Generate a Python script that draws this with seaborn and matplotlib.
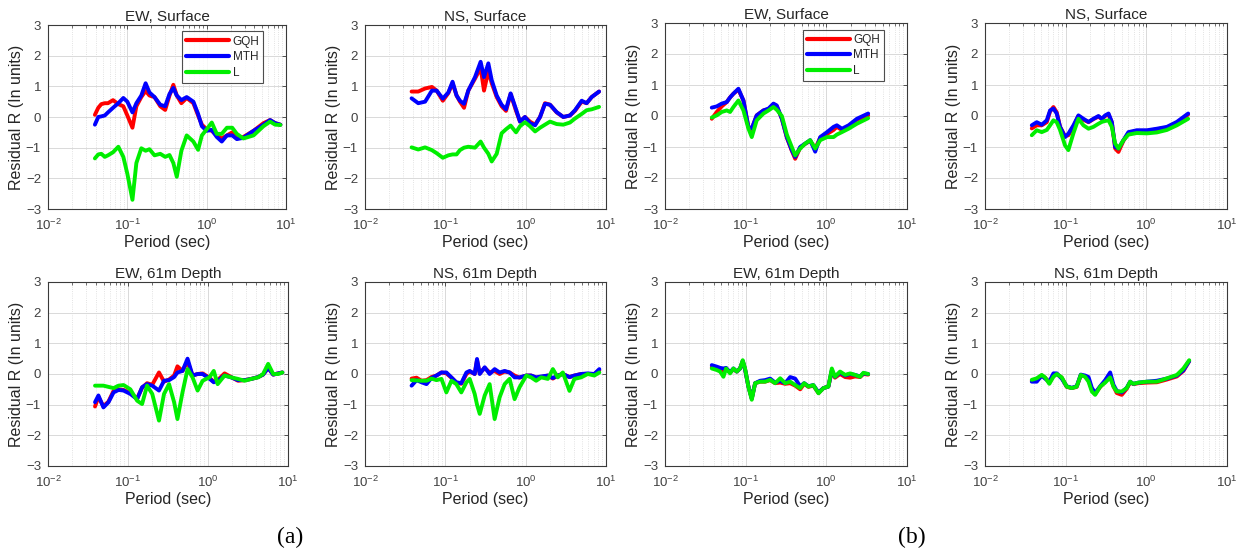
import matplotlib
matplotlib.use("Agg")
import matplotlib.pyplot as plt
import seaborn as sns
from matplotlib.ticker import LogLocator, LogFormatterSciNotation, NullFormatter, FixedLocator

# ---------------- data: residuals vs period, (a) left pair, (b) right pair ----------------
# (a) EW, Surface
A_EW_SURF_T = [0.039, 0.043, 0.047, 0.052, 0.057, 0.066, 0.077, 0.089, 0.10, 0.116,
               0.13, 0.15, 0.17, 0.19, 0.22, 0.26, 0.30, 0.34, 0.38, 0.42,
               0.48, 0.56, 0.68, 0.78, 0.87, 1.0, 1.16, 1.34, 1.55, 1.8,
               2.1, 2.4, 2.9, 3.9, 5.2, 6.3, 7.3, 8.5]
A_EW_SURF_GQH = [0.07, 0.3, 0.42, 0.45, 0.45, 0.55, 0.42, 0.35, 0.05, -0.35,
                 0.35, 0.65, 0.85, 0.7, 0.65, 0.35, 0.23, 0.7, 1.05, 0.7,
                 0.45, 0.62, 0.45, 0.05, -0.25, -0.4, -0.45, -0.6, -0.7, -0.6,
                 -0.5, -0.7, -0.65, -0.45, -0.2, -0.1, -0.2, -0.25]
A_EW_SURF_MTH = [-0.25, 0.0, 0.02, 0.05, 0.15, 0.3, 0.45, 0.62, 0.5, 0.15,
                 0.45, 0.7, 1.1, 0.8, 0.65, 0.4, 0.35, 0.75, 0.95, 0.7,
                 0.55, 0.65, 0.5, 0.1, -0.3, -0.45, -0.42, -0.65, -0.8, -0.6,
                 -0.6, -0.72, -0.68, -0.45, -0.25, -0.1, -0.2, -0.25]
A_EW_SURF_L = [-1.35, -1.22, -1.2, -1.3, -1.25, -1.15, -0.97, -1.3, -1.85, -2.7,
               -1.5, -1.02, -1.1, -1.05, -1.25, -1.2, -1.3, -1.24, -1.5, -1.95,
               -1.1, -0.6, -0.8, -1.07, -0.6, -0.4, -0.18, -0.55, -0.55, -0.35,
               -0.35, -0.55, -0.7, -0.6, -0.3, -0.15, -0.25, -0.26]

# (a) NS, Surface
A_NS_SURF_T = [0.038, 0.046, 0.056, 0.068, 0.078, 0.093, 0.109, 0.123, 0.138, 0.152,
               0.171, 0.193, 0.234, 0.275, 0.303, 0.343, 0.378, 0.436, 0.502, 0.569,
               0.65, 0.759, 0.85, 0.98, 1.13, 1.31, 1.51, 1.74, 2.01, 2.43,
               2.94, 3.56, 4.11, 4.98, 5.74, 6.63, 8.2]
A_NS_SURF_GQH = [0.83, 0.83, 0.93, 0.98, 0.86, 0.53, 0.78, 1.1, 0.7, 0.5,
                 0.3, 0.86, 1.25, 1.6, 0.86, 1.5, 1.1, 0.65, 0.35, 0.2,
                 0.75, 0.2, -0.15, 0.0, -0.15, -0.25, 0.0, 0.45, 0.4, 0.15,
                 0.0, 0.05, 0.2, 0.5, 0.45, 0.65, 0.83]
A_NS_SURF_MTH = [0.61, 0.45, 0.5, 0.86, 0.86, 0.6, 0.8, 1.15, 0.7, 0.53,
                 0.43, 0.86, 1.3, 1.8, 1.3, 1.75, 1.2, 0.7, 0.4, 0.25,
                 0.77, 0.25, -0.15, 0.0, -0.2, -0.27, 0.0, 0.43, 0.4, 0.16,
                 0.0, 0.05, 0.22, 0.53, 0.45, 0.65, 0.83]
A_NS_SURF_L = [-0.99, -1.06, -0.99, -1.08, -1.18, -1.33, -1.25, -1.22, -1.22, -1.08,
               -1.0, -0.97, -1.0, -0.8, -1.0, -1.2, -1.45, -1.2, -0.53, -0.4,
               -0.28, -0.5, -0.3, -0.17, -0.3, -0.47, -0.35, -0.25, -0.15, -0.23,
               -0.25, -0.18, -0.05, 0.1, 0.22, 0.25, 0.33]

# (a) EW, 61m Depth
A_EW_DEEP_T = [0.0387, 0.0427, 0.0493, 0.057, 0.066, 0.0762, 0.0881, 0.107, 0.130, 0.150,
               0.173, 0.201, 0.244, 0.282, 0.326, 0.377, 0.415, 0.48, 0.555, 0.641,
               0.741, 0.857, 1.04, 1.18, 1.32, 1.61, 1.95, 2.37, 2.87, 3.48,
               4.23, 4.88, 5.65, 6.53, 7.55, 8.5]
A_EW_DEEP_GQH = [-1.06, -0.75, -1.05, -0.9, -0.55, -0.5, -0.52, -0.62, -0.8, -0.45,
                 -0.3, -0.35, 0.05, -0.25, -0.18, -0.05, 0.25, 0.1, 0.4, -0.05,
                 0.0, 0.02, -0.12, -0.25, -0.2, 0.02, -0.1, -0.22, -0.2, -0.16,
                 -0.1, -0.02, 0.2, -0.02, 0.02, 0.05]
A_EW_DEEP_MTH = [-0.92, -0.7, -1.09, -0.92, -0.6, -0.52, -0.54, -0.65, -0.82, -0.43,
                 -0.33, -0.38, -0.54, -0.22, -0.2, -0.1, 0.05, 0.1, 0.5, -0.05,
                 0.0, 0.0, -0.15, -0.27, -0.22, -0.05, -0.11, -0.2, -0.2, -0.16,
                 -0.1, -0.02, 0.2, -0.02, 0.02, 0.05]
A_EW_DEEP_L = [-0.38, -0.38, -0.38, -0.42, -0.46, -0.38, -0.36, -0.5, -0.87, -0.98,
               -0.38, -0.65, -1.52, -0.65, -0.33, -0.92, -1.47, -0.6, 0.16, -0.11,
               -0.54, -0.22, -0.11, 0.1, -0.33, -0.05, -0.11, -0.16, -0.22, -0.16,
               -0.11, 0.0, 0.33, 0.0, 0.0, 0.05]

# (a) NS, 61m Depth
A_NS_DEEP_T = [0.038, 0.0438, 0.0505, 0.0583, 0.0672, 0.0776, 0.0895, 0.103, 0.119, 0.137,
               0.158, 0.183, 0.201, 0.232, 0.248, 0.268, 0.309, 0.356, 0.411, 0.474,
               0.547, 0.631, 0.728, 0.840, 1.02, 1.17, 1.35, 1.56, 1.89, 2.18,
               2.51, 2.90, 3.51, 4.04, 4.90, 5.92, 7.16, 8.26]
A_NS_DEEP_GQH = [-0.15, -0.12, -0.22, -0.2, -0.1, -0.05, 0.05, 0.02, -0.12, -0.28,
                 -0.32, 0.0, 0.08, 0.0, 0.45, 0.02, 0.2, 0.05, 0.1, 0.0,
                 0.08, 0.05, -0.05, -0.12, -0.05, -0.05, -0.12, -0.1, -0.05, -0.15,
                 -0.05, 0.0, -0.1, -0.05, 0.0, 0.0, 0.0, 0.12]
A_NS_DEEP_MTH = [-0.38, -0.2, -0.27, -0.33, -0.13, -0.05, 0.05, 0.05, -0.11, -0.27,
                 -0.3, 0.05, 0.1, 0.0, 0.49, 0.0, 0.22, 0.0, 0.16, 0.05,
                 0.1, 0.05, -0.11, -0.11, -0.05, -0.05, -0.11, -0.08, -0.05, -0.13,
                 -0.05, 0.0, -0.1, -0.05, 0.0, 0.02, 0.0, 0.16]
A_NS_DEEP_L = [-0.2, -0.21, -0.22, -0.22, -0.15, -0.2, -0.16, -0.6, -0.22, -0.33,
               -0.6, -0.27, -0.16, -0.65, -1.0, -1.3, -0.7, -0.33, -1.47, -0.76,
               -0.33, -0.16, -0.82, -0.43, -0.05, -0.11, -0.22, -0.11, -0.16, 0.16,
               -0.11, 0.05, -0.55, -0.16, -0.11, 0.0, -0.05, 0.05]

# (b) EW, Surface
B_EW_SURF_T = [0.038, 0.0438, 0.0505, 0.0583, 0.0641, 0.0705, 0.0813, 0.0938, 0.108, 0.119,
               0.137, 0.166, 0.192, 0.221, 0.243, 0.281, 0.324, 0.373, 0.411, 0.474,
               0.547, 0.631, 0.728, 0.840, 1.02, 1.23, 1.35, 1.56, 1.89, 2.39, 3.3]
B_EW_SURF_GQH = [-0.09, 0.13, 0.31, 0.45, 0.6, 0.72, 0.85, 0.5, -0.35, -0.42,
                 0.02, 0.18, 0.22, 0.38, 0.32, -0.09, -0.7, -1.12, -1.38, -1.02,
                 -0.9, -0.8, -1.05, -0.7, -0.58, -0.45, -0.35, -0.45, -0.38, -0.12, 0.02]
B_EW_SURF_MTH = [0.27, 0.31, 0.4, 0.45, 0.6, 0.72, 0.88, 0.5, -0.35, -0.4,
                 0.02, 0.18, 0.24, 0.4, 0.34, -0.09, -0.68, -1.1, -1.32, -1.0,
                 -0.89, -0.78, -1.15, -0.68, -0.52, -0.35, -0.3, -0.41, -0.3, -0.09, 0.08]
B_EW_SURF_L = [-0.05, 0.02, 0.13, 0.18, 0.13, 0.29, 0.5, 0.18, -0.4, -0.68,
               -0.14, 0.08, 0.18, 0.29, 0.2, 0.0, -0.6, -1.0, -1.27, -1.05,
               -0.89, -0.78, -1.05, -0.78, -0.68, -0.68, -0.6, -0.52, -0.41, -0.25, -0.07]

# (b) NS, Surface
B_NS_SURF_T = [0.038, 0.0438, 0.0505, 0.0583, 0.0641, 0.0705, 0.0775, 0.0852, 0.0983, 0.108,
               0.125, 0.144, 0.166, 0.192, 0.221, 0.255, 0.281, 0.309, 0.340, 0.373,
               0.411, 0.451, 0.520, 0.600, 0.76, 1.02, 1.35, 1.80, 2.39, 3.3]
B_NS_SURF_GQH = [-0.4, -0.3, -0.3, -0.2, 0.15, 0.29, 0.12, -0.35, -0.65, -0.62,
                 -0.35, 0.0, -0.12, -0.2, -0.1, -0.02, -0.1, 0.0, 0.05, -0.2,
                 -1.05, -1.16, -0.8, -0.55, -0.48, -0.48, -0.43, -0.37, -0.22, 0.05]
B_NS_SURF_MTH = [-0.3, -0.2, -0.28, -0.14, 0.18, 0.24, 0.08, -0.35, -0.68, -0.57,
                 -0.3, 0.02, -0.09, -0.19, -0.09, 0.0, -0.09, 0.02, 0.08, -0.19,
                 -1.0, -1.05, -0.78, -0.52, -0.46, -0.46, -0.41, -0.35, -0.19, 0.08]
B_NS_SURF_L = [-0.62, -0.46, -0.52, -0.45, -0.3, -0.14, -0.2, -0.45, -0.95, -1.1,
               -0.55, -0.09, -0.3, -0.41, -0.35, -0.25, -0.19, -0.16, -0.14, -0.35,
               -0.89, -1.05, -0.78, -0.6, -0.55, -0.56, -0.53, -0.45, -0.3, -0.09]

# (b) EW, 61m Depth
B_EW_DEEP_T = [0.038, 0.0438, 0.0482, 0.0530, 0.0572, 0.0641, 0.0705, 0.0775, 0.0852, 0.0920,
               0.0983, 0.108, 0.119, 0.131, 0.151, 0.174, 0.201, 0.232, 0.268, 0.309,
               0.356, 0.411, 0.474, 0.531, 0.600, 0.69, 0.80, 0.92, 1.06, 1.17,
               1.28, 1.48, 1.71, 1.97, 2.27, 2.62, 2.88, 3.3]
B_EW_DEEP_GQH = [0.22, 0.18, 0.15, 0.1, 0.18, 0.05, 0.15, 0.08, 0.18, 0.42,
                 0.15, -0.4, -0.8, -0.3, -0.25, -0.25, -0.2, -0.3, -0.28, -0.32,
                 -0.3, -0.38, -0.5, -0.32, -0.42, -0.38, -0.62, -0.46, -0.41, 0.1,
                 -0.12, 0.0, -0.1, -0.12, -0.08, -0.1, 0.0, -0.02]
B_EW_DEEP_MTH = [0.29, 0.24, 0.2, 0.18, 0.2, 0.05, 0.18, 0.08, 0.18, 0.42,
                 0.15, -0.4, -0.8, -0.3, -0.22, -0.2, -0.15, -0.28, -0.22, -0.3,
                 -0.1, -0.15, -0.4, -0.3, -0.4, -0.36, -0.6, -0.46, -0.41, 0.12,
                 -0.09, 0.05, -0.05, 0.0, -0.03, -0.08, 0.02, 0.0]
B_EW_DEEP_L = [0.18, 0.13, 0.08, -0.09, 0.18, 0.02, 0.18, 0.08, 0.18, 0.45,
               0.18, -0.41, -0.84, -0.3, -0.25, -0.25, -0.19, -0.3, -0.14, -0.3,
               -0.25, -0.36, -0.46, -0.3, -0.41, -0.36, -0.63, -0.46, -0.41, 0.18,
               -0.09, 0.08, -0.03, 0.02, -0.03, -0.09, 0.04, 0.0]

# (b) NS, 61m Depth
B_NS_DEEP_T = [0.038, 0.0438, 0.0505, 0.0555, 0.0627, 0.0705, 0.0775, 0.0894, 0.103, 0.119,
               0.137, 0.154, 0.174, 0.192, 0.211, 0.232, 0.268, 0.309, 0.356, 0.391,
               0.430, 0.496, 0.572, 0.63, 0.69, 0.80, 1.02, 1.35, 1.80, 2.39,
               2.88, 3.4]
B_NS_DEEP_GQH = [-0.22, -0.2, -0.05, -0.12, -0.28, -0.05, 0.0, -0.12, -0.42, -0.46,
                 -0.42, -0.04, -0.08, -0.2, -0.5, -0.65, -0.42, -0.25, -0.05, -0.4,
                 -0.62, -0.68, -0.48, -0.27, -0.33, -0.3, -0.28, -0.27, -0.18, -0.08,
                 0.1, 0.42]
B_NS_DEEP_MTH = [-0.25, -0.25, -0.05, -0.15, -0.25, 0.02, 0.02, -0.15, -0.4, -0.45,
                 -0.4, -0.02, -0.05, -0.1, -0.45, -0.62, -0.4, -0.2, 0.05, -0.35,
                 -0.55, -0.6, -0.45, -0.25, -0.32, -0.28, -0.25, -0.22, -0.15, -0.05,
                 0.12, 0.42]
B_NS_DEEP_L = [-0.19, -0.14, -0.03, -0.11, -0.32, -0.09, 0.0, -0.11, -0.41, -0.46,
               -0.41, -0.03, -0.09, -0.25, -0.57, -0.68, -0.41, -0.28, -0.11, -0.41,
               -0.57, -0.57, -0.46, -0.25, -0.32, -0.28, -0.25, -0.25, -0.14, -0.03,
               0.18, 0.45]

MODELS = ["GQH", "MTH", "L"]
MODEL_COLORS = {"GQH": "#ff0000", "MTH": "#0000ff", "L": "#00ee00"}
Y_TICKS = [-3, -2, -1, 0, 1, 2, 3]

# panel title, period array, series, legend flag, axes rect in figure pixels (x0, y0_top, x1, y1_bottom)
PANELS = [
    ("EW, Surface", A_EW_SURF_T, (A_EW_SURF_GQH, A_EW_SURF_MTH, A_EW_SURF_L), True, (48, 25, 286, 209)),
    ("NS, Surface", A_NS_SURF_T, (A_NS_SURF_GQH, A_NS_SURF_MTH, A_NS_SURF_L), False, (365, 25, 606, 209)),
    ("EW, Surface", B_EW_SURF_T, (B_EW_SURF_GQH, B_EW_SURF_MTH, B_EW_SURF_L), True, (665, 23, 907, 209)),
    ("NS, Surface", B_NS_SURF_T, (B_NS_SURF_GQH, B_NS_SURF_MTH, B_NS_SURF_L), False, (985, 23, 1227, 209)),
    ("EW, 61m Depth", A_EW_DEEP_T, (A_EW_DEEP_GQH, A_EW_DEEP_MTH, A_EW_DEEP_L), False, (48, 282, 288, 466)),
    ("NS, 61m Depth", A_NS_DEEP_T, (A_NS_DEEP_GQH, A_NS_DEEP_MTH, A_NS_DEEP_L), False, (365, 282, 606, 466)),
    ("EW, 61m Depth", B_EW_DEEP_T, (B_EW_DEEP_GQH, B_EW_DEEP_MTH, B_EW_DEEP_L), False, (665, 282, 907, 466)),
    ("NS, 61m Depth", B_NS_DEEP_T, (B_NS_DEEP_GQH, B_NS_DEEP_MTH, B_NS_DEEP_L), False, (985, 282, 1227, 466)),
]

# ---------------- styling ----------------
sns.set_style("white")
plt.rcParams["font.family"] = ["Liberation Sans", "DejaVu Sans"]
plt.rcParams["mathtext.fontset"] = "custom"
plt.rcParams["mathtext.rm"] = "Liberation Sans"
plt.rcParams["mathtext.it"] = "Liberation Sans:italic"

TEXT_COLOR = "#262626"
TICK_COLOR = "#404040"
SPINE_COLOR = "#3a3a3a"
GRID_COLOR = "#d9d9d9"

W, H = 1242, 554
fig = plt.figure(figsize=(W / 100, H / 100), dpi=100)
fig.patch.set_facecolor("white")

for title, periods, series, show_legend, (x0, y0, x1, y1) in PANELS:
    ax = fig.add_axes([x0 / W, 1 - y1 / H, (x1 - x0) / W, (y1 - y0) / H])
    for name, vals in zip(MODELS, series):
        sns.lineplot(x=periods, y=vals, ax=ax, color=MODEL_COLORS[name],
                     linewidth=2.8, label=name, legend=False, sort=False,
                     solid_joinstyle="round", solid_capstyle="round")

    ax.set_xscale("log")
    ax.set_xlim(1e-2, 1e1)
    ax.set_ylim(-3, 3)
    ax.yaxis.set_major_locator(FixedLocator(Y_TICKS))
    ax.xaxis.set_major_locator(LogLocator(base=10, numticks=10))
    ax.xaxis.set_minor_locator(LogLocator(base=10, subs=range(2, 10), numticks=20))
    ax.xaxis.set_major_formatter(LogFormatterSciNotation())
    ax.xaxis.set_minor_formatter(NullFormatter())

    ax.grid(True, which="major", color=GRID_COLOR, linewidth=0.7, linestyle="-")
    ax.xaxis.grid(True, which="minor", color=GRID_COLOR, linewidth=0.6, linestyle=":")
    ax.set_axisbelow(True)

    ax.tick_params(which="both", direction="in", top=True, right=True,
                   colors=SPINE_COLOR, labelcolor=TICK_COLOR, labelsize=9.5)
    ax.tick_params(which="major", length=3, width=0.6)
    ax.tick_params(which="minor", length=1.8, width=0.5)
    ax.tick_params(axis="x", which="major", pad=6)
    ax.tick_params(axis="y", which="major", pad=5)
    for sp in ax.spines.values():
        sp.set_color(SPINE_COLOR)
        sp.set_linewidth(0.8)

    ax.set_title(title, fontsize=11, color=TEXT_COLOR, pad=3)
    ax.set_xlabel("Period (sec)", fontsize=11.5, color=TEXT_COLOR, labelpad=2)
    ax.set_ylabel("Residual R (In units)", fontsize=11.5, color=TEXT_COLOR, labelpad=1)

    if show_legend:
        leg = ax.legend(loc="upper right", bbox_to_anchor=(0.905, 0.965), fontsize=8.5,
                        handlelength=3.6, handletextpad=0.3, borderpad=0.35,
                        labelspacing=0.3, borderaxespad=0.0, fancybox=False,
                        frameon=True)
        leg.get_frame().set_edgecolor("#222222")
        leg.get_frame().set_linewidth(0.8)
        for line in leg.get_lines():
            line.set_linewidth(3.0)

# sub-figure labels
fig.text(290 / W, 1 - 537 / H, "(a)", fontsize=17, family=["Liberation Serif", "DejaVu Serif"],
         ha="center", va="center", color="black")
fig.text(912 / W, 1 - 537 / H, "(b)", fontsize=17, family=["Liberation Serif", "DejaVu Serif"],
         ha="center", va="center", color="black")

fig.savefig("out.png", dpi=100, facecolor="white")
